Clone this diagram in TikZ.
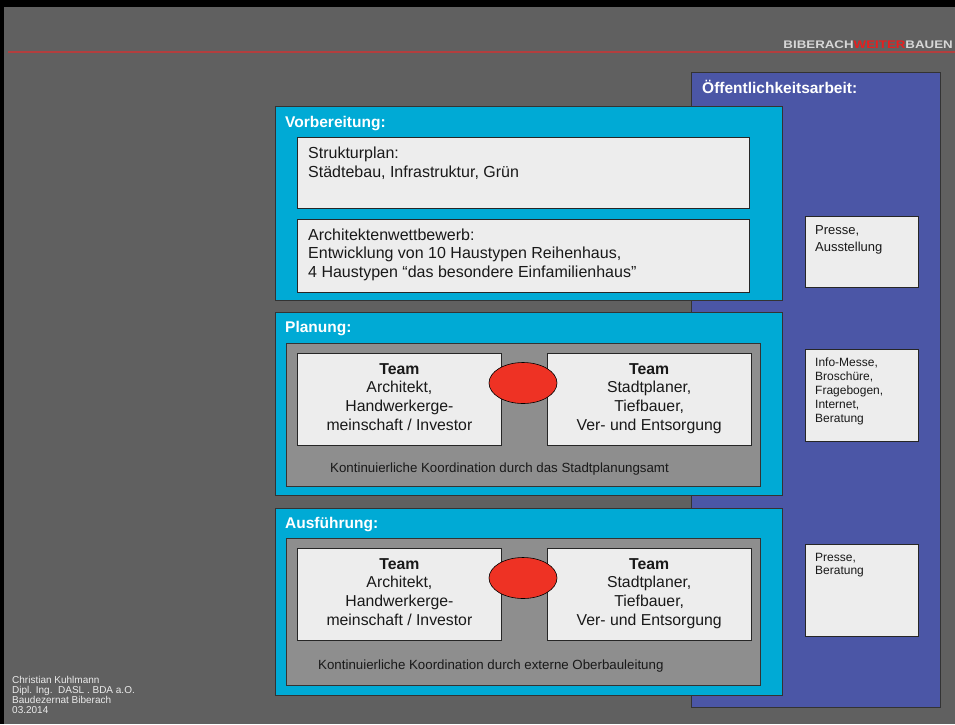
\documentclass[tikz,border=0pt]{standalone}
\usepackage{fontspec}
\setmainfont{Liberation Sans}
\usetikzlibrary{positioning,shapes.geometric}

\definecolor{bggray}{RGB}{96,96,96}
\definecolor{phasecyan}{RGB}{0,170,213}
\definecolor{pubblue}{RGB}{75,86,166}
\definecolor{boxgray}{RGB}{237,237,237}
\definecolor{teamgray}{RGB}{142,142,142}
\definecolor{linkred}{RGB}{238,50,36}
\definecolor{rulered}{RGB}{178,62,62}
\definecolor{logogray}{RGB}{215,215,215}
\definecolor{logored}{RGB}{232,30,30}

\tikzset{
  phase/.style={draw=black!80, fill=phasecyan, line width=0.8pt, anchor=north west, inner sep=0pt, minimum width=507pt},
  pubbox/.style={draw=black!80, fill=pubblue, line width=0.8pt, anchor=north west, inner sep=0pt},
  textbox/.style={draw=black!85, fill=boxgray, line width=0.8pt, anchor=north west, inner sep=0pt, minimum width=452pt},
  coordbox/.style={draw=black!80, fill=teamgray, line width=0.8pt, anchor=north west, inner sep=0pt, minimum width=474pt},
  teambox/.style={textbox, minimum width=204pt, minimum height=92pt},
  sidebox/.style={textbox, minimum width=113pt},
  linkdot/.style={ellipse, draw=black, fill=linkred, line width=0.6pt, minimum width=68pt, minimum height=41pt, inner sep=0pt},
  phasetitle/.style={anchor=base west, inner sep=0pt, text=white, font=\bfseries\fontsize{15.5}{18}\selectfont},
  boxtext/.style={anchor=north west, inner sep=0pt, align=left, text=black!90, font=\fontsize{16}{18.3}\selectfont},
  teamtext/.style={anchor=north, inner sep=0pt, align=center, text=black!90, font=\fontsize{15.8}{18.7}\selectfont},
  coordtext/.style={anchor=base west, inner sep=0pt, text=black!90, font=\fontsize{13.3}{16}\selectfont},
  sidetext/.style={anchor=north west, inner sep=0pt, align=left, text=black!90, font=\fontsize{12}{14}\selectfont},
  footer/.style={anchor=north west, inner sep=0pt, align=left, text=black!8, font=\fontsize{10}{10}\selectfont},
  logo/.style={anchor=base east, inner sep=0pt, font=\bfseries\fontsize{11}{13}\selectfont}
}

\begin{document}
\begin{tikzpicture}[x=1pt,y=-1pt]
    \useasboundingbox (0,0) rectangle (955,724);
    \fill[black] (0,0) rectangle (955,724);
    \fill[bggray] (4,7) rectangle (955,724);
    \draw[rulered, line width=1.5pt] (8,52) -- (955,52);
    \node[logo] (logo) at (953,48) {\scalebox{1.21}[1]{\textcolor{logogray}{BIBERACH}\textcolor{logored}{WEITER}\textcolor{logogray}{BAUEN}}};

    % Oeffentlichkeitsarbeit
    \node[pubbox, minimum width=249pt, minimum height=635pt] (public) at (691,72) {};
    \node[phasetitle] (public_title) at ([xshift=11pt,yshift=-21pt]public.north west) {Öffentlichkeitsarbeit:};
    \node[sidebox, minimum height=71pt] (public1) at (805,216) {};
    \node[sidetext, font=\fontsize{13}{17}\selectfont] (public1_text) at ([xshift=10pt,yshift=-9pt]public1.north west) {Presse,\\Ausstellung};
    \node[sidebox, minimum height=92pt] (public2) at (805,349) {};
    \node[sidetext] (public2_text) at ([xshift=10pt,yshift=-9pt]public2.north west) {Info-Messe,\\Broschüre,\\Fragebogen,\\Internet,\\Beratung};
    \node[sidebox, minimum height=92pt] (public3) at (805,544) {};
    \node[sidetext, font=\fontsize{12}{13.5}\selectfont] (public3_text) at ([xshift=10pt,yshift=-9pt]public3.north west) {Presse,\\Beratung};

    % Vorbereitung
    \node[phase, minimum height=194pt] (prep) at (275,106) {};
    \node[phasetitle] (prep_title) at ([xshift=10pt,yshift=-21pt]prep.north west) {Vorbereitung:};
    \node[textbox, minimum height=71pt] (prep1) at (297,137) {};
    \node[boxtext] (prep1_text) at ([xshift=11pt,yshift=-10pt]prep1.north west) {Strukturplan:\\Städtebau, Infrastruktur, Grün};
    \node[textbox, minimum height=73pt] (prep2) [below=10pt of prep1] {};
    \node[boxtext] (prep2_text) at ([xshift=11pt,yshift=-10pt]prep2.north west) {Architektenwettbewerb:\\Entwicklung von 10 Haustypen Reihenhaus,\\4 Haustypen “das besondere Einfamilienhaus”};

    % Planung
    \node[phase, minimum height=183pt] (plan) at (275,312) {};
    \node[phasetitle] (plan_title) at ([xshift=10pt,yshift=-20pt]plan.north west) {Planung:};
    \node[coordbox, minimum height=143pt] (plan_coord) at (286,343) {};
    \node[teambox] (plan_team1) at (297,353) {};
    \node[teambox] (plan_team2) [right=45pt of plan_team1] {};
    \node[teamtext] (plan_team1_text) at ([yshift=-10pt]plan_team1.north) {\textbf{Team}\\Architekt,\\Handwerkerge-\\meinschaft / Investor};
    \node[teamtext] (plan_team2_text) at ([yshift=-10pt]plan_team2.north) {\textbf{Team}\\Stadtplaner,\\Tiefbauer,\\Ver- und Entsorgung};
    \node[linkdot] (plan_link) at (523,383) {};
    \node[coordtext] (plan_coord_text) at (330,472) {Kontinuierliche Koordination durch das Stadtplanungsamt};

    % Ausfuehrung
    \node[phase, minimum height=187pt] (exec) at (275,508) {};
    \node[phasetitle] (exec_title) at ([xshift=10pt,yshift=-20pt]exec.north west) {Ausführung:};
    \node[coordbox, minimum height=147pt] (exec_coord) at (286,538) {};
    \node[teambox] (exec_team1) at (297,548) {};
    \node[teambox] (exec_team2) [right=45pt of exec_team1] {};
    \node[teamtext] (exec_team1_text) at ([yshift=-10pt]exec_team1.north) {\textbf{Team}\\Architekt,\\Handwerkerge-\\meinschaft / Investor};
    \node[teamtext] (exec_team2_text) at ([yshift=-10pt]exec_team2.north) {\textbf{Team}\\Stadtplaner,\\Tiefbauer,\\Ver- und Entsorgung};
    \node[linkdot] (exec_link) at (523,578) {};
    \node[coordtext] (exec_coord_text) at (318,669) {Kontinuierliche Koordination durch externe Oberbauleitung};

    \node[footer] (author) at (12,676.5) {Christian Kuhlmann\\Dipl. Ing.\ \ DASL . BDA a.O.\\Baudezernat Biberach\\03.2014};
\end{tikzpicture}
\end{document}
